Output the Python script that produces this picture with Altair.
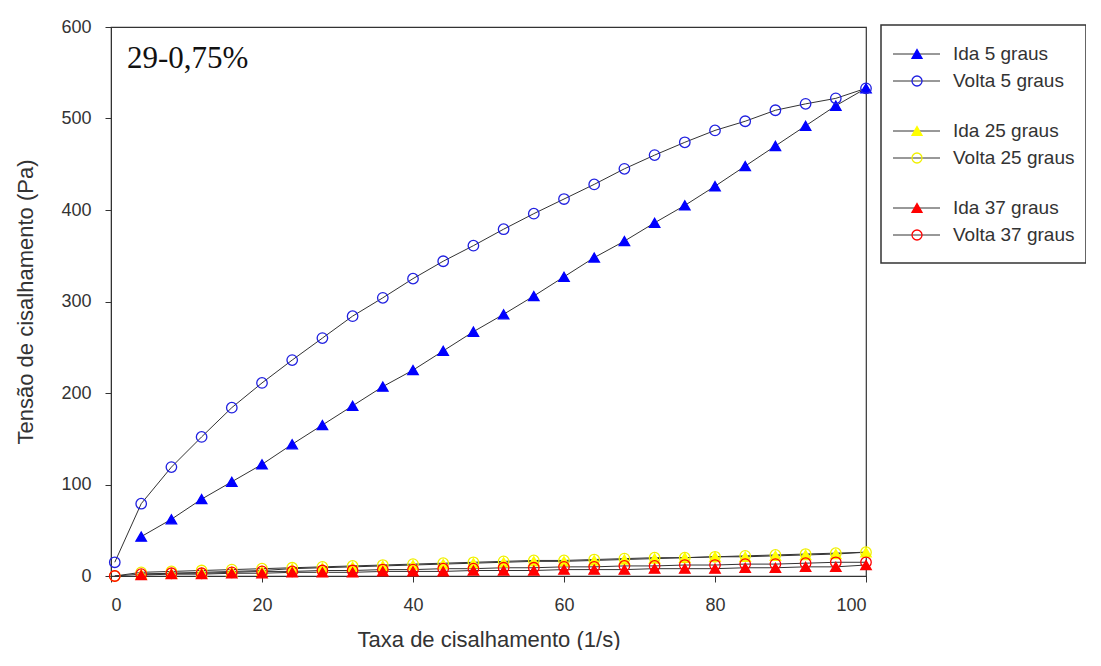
import altair as alt
import pandas as pd

# ---- data ----
series_names = ["Ida 5 graus", "Volta 5 graus", "Ida 25 graus", "Volta 25 graus",
                "Ida 37 graus", "Volta 37 graus"]
series_colors = ["#0000FF", "#2020E0", "#FFFF00", "#F0F000", "#FF0000", "#FF0000"]
series_fills = ["#0000FF", "transparent", "#FFFF00", "transparent", "#FF0000", "transparent"]
series_shapes = ["triangle-up", "circle", "triangle-up", "circle", "triangle-up", "circle"]

x_ida = [4, 8, 12, 16, 20, 24, 28, 32, 36, 40, 44, 48, 52, 56, 60, 64, 68, 72, 76, 80,
         84, 88, 92, 96, 100]
x_volta = [0.5, 4, 8, 12, 16, 20, 24, 28, 32, 36, 40, 44, 48, 52, 56, 60, 64, 68, 72, 76,
           80, 84, 88, 92, 96, 100]

ida5 = [43, 62, 84, 103, 122, 144, 165, 186, 207, 225, 246, 267, 286, 306, 327, 348, 366,
        386, 405, 426, 448, 470, 492, 514, 533]
volta5 = [15, 79, 119, 152, 184, 211, 236, 260, 284, 304, 325, 344, 361, 379, 396, 412,
          428, 445, 460, 474, 487, 497, 509, 516, 522, 533]
ida25 = [2, 3, 4, 5, 6, 8, 9, 10, 11, 12, 13, 14, 15, 16, 16, 17, 18, 19, 20, 21, 21, 22,
         23, 24, 26]
volta25 = [0, 4, 5, 6, 7, 8, 9, 10, 11, 12, 13, 14, 15, 16, 17, 17, 18, 19, 20, 20, 21, 22,
           23, 24, 25, 26]
ida37 = [1, 2, 2, 3, 3, 4, 4, 4, 5, 5, 5, 6, 6, 6, 7, 7, 7, 8, 8, 8, 9, 9, 10, 10, 12]
volta37 = [0, 2, 3, 3, 4, 5, 5, 6, 6, 7, 7, 8, 8, 9, 9, 10, 10, 11, 11, 12, 12, 13, 13, 14,
           15, 15]

x_ticks = [0, 20, 40, 60, 80, 100]
y_ticks = [0, 100, 200, 300, 400, 500, 600]
annotation = "29-0,75%"

# ---- build tables ----
series_data = [(series_names[0], x_ida, ida5), (series_names[1], x_volta, volta5),
               (series_names[2], x_ida, ida25), (series_names[3], x_volta, volta25),
               (series_names[4], x_ida, ida37), (series_names[5], x_volta, volta37)]
rows = []
for k, (name, xs, ys) in enumerate(series_data):
    for xv, yv in zip(xs, ys):
        rows.append({"series": name, "x": xv, "y": yv, "k": k})
df = pd.DataFrame(rows)

# legend layout (pixel rows inside the legend box)
leg_rows = []
for i, name in enumerate(series_names):
    group, sub = divmod(i, 2)
    leg_rows.append({"series": name, "ly": 27 + group * 77 + sub * 27})
leg = pd.DataFrame(leg_rows)

FONT = "Liberation Sans"
col_stroke = alt.Stroke("series:N", scale=alt.Scale(domain=series_names, range=series_colors), legend=None)
col_fill = alt.Fill("series:N", scale=alt.Scale(domain=series_names, range=series_fills), legend=None)
shp = alt.Shape("series:N", scale=alt.Scale(domain=series_names, range=series_shapes), legend=None)

xenc = alt.X("x:Q", scale=alt.Scale(domain=[0, 100], nice=False),
             axis=alt.Axis(values=x_ticks, title="Taxa de cisalhamento (1/s)", grid=False,
                           tickSize=6, labelPadding=14, labelFontSize=18, labelFont=FONT,
                           labelColor="#333", titleFont=FONT, titleFontSize=22,
                           titleFontWeight="normal", titleColor="#333",
                           titleBaseline="alphabetic", titleY=70, domainColor="#333",
                           tickColor="#333"))
yenc = alt.Y("y:Q", scale=alt.Scale(domain=[0, 600], nice=False),
             axis=alt.Axis(values=y_ticks, title="Tensão de cisalhamento (Pa)", grid=False,
                           tickSize=6, labelPadding=14, labelFontSize=18, labelFont=FONT,
                           labelColor="#333", titleFont=FONT, titleFontSize=22,
                           titleFontWeight="normal", titleColor="#333",
                           titleX=-86, titleBaseline="middle", domainColor="#333",
                           tickColor="#333"))

lines = alt.Chart(df).mark_line(color="#333", strokeWidth=1).encode(
    x=xenc, y=yenc, detail="series:N", order="x:Q")

points = alt.Chart(df).mark_point(filled=True, size=110, strokeWidth=1.3, opacity=1).encode(
    x="x:Q", y="y:Q", stroke=col_stroke, fill=col_fill, shape=shp, order="k:Q")

label = alt.Chart(pd.DataFrame({"t": [annotation]})).mark_text(
    font="Liberation Serif", fontSize=31, align="left", baseline="alphabetic",
    color="#111").encode(x=alt.value(16), y=alt.value(41), text="t:N")

box = alt.Chart(pd.DataFrame({"a": [0]})).mark_rect(
    fill="white", stroke="#333", strokeWidth=1.5).encode(
    x=alt.value(770), x2=alt.value(975), y=alt.value(-2), y2=alt.value(236))

leg_lines = alt.Chart(leg).mark_rule(color="#333", strokeWidth=1).encode(
    x=alt.value(782), x2=alt.value(829), y=alt.Y("ly:Q", scale=None))
leg_pts = alt.Chart(leg).mark_point(filled=True, size=100, strokeWidth=1.3, opacity=1).encode(
    x=alt.value(806), y=alt.Y("ly:Q", scale=None), stroke=col_stroke, fill=col_fill, shape=shp)
leg_text = alt.Chart(leg).mark_text(font=FONT, fontSize=19, align="left", baseline="middle",
                                    color="#333").encode(
    x=alt.value(842), y=alt.Y("ly:Q", scale=None), text="series:N")

chart = alt.layer(lines, points, label, box, leg_lines, leg_pts, leg_text).properties(
    width=755, height=549,
    autosize=alt.AutoSizeParams(type="none"),
    padding={"left": 103, "top": 19, "right": 220, "bottom": 74},
).configure_view(stroke="#333", strokeWidth=1.2)

chart.save("out.html", embed_options={"renderer": "svg", "actions": False})
